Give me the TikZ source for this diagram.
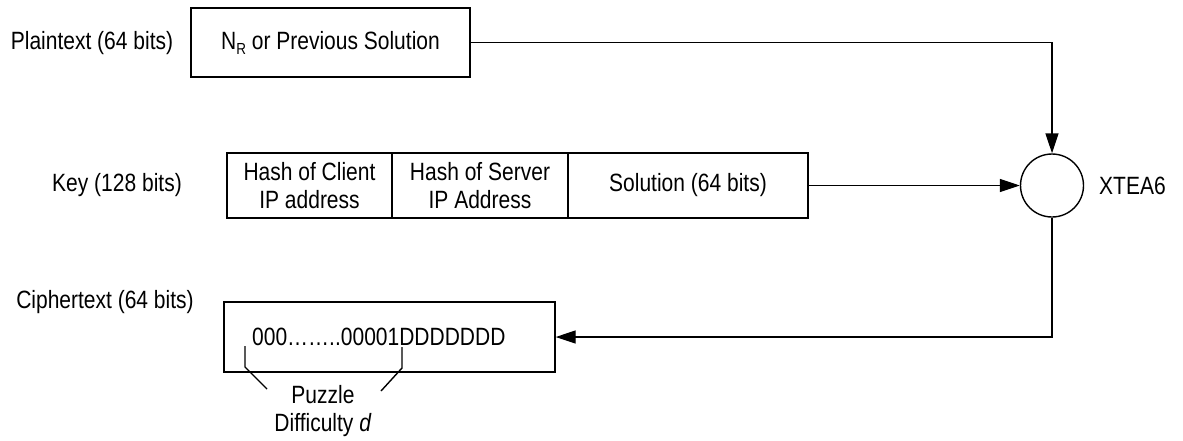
\documentclass[tikz,border=0pt]{standalone}
\usepackage{fontspec}
\setmainfont[FakeStretch=0.84]{Liberation Sans}
\usetikzlibrary{arrows.meta}
\begin{document}
\begin{tikzpicture}[x=1pt,y=-1pt,
  every node/.style={font=\fontsize{25}{28}\selectfont, inner sep=0pt},
  box/.style={draw, line width=1.4pt},
  conn/.style={line width=1.4pt, -{Triangle[length=20pt,width=13pt]}},
  plain/.style={line width=1.4pt}]
\useasboundingbox (0,0) rectangle (1183,440);
% labels
\node (lp) at (92,43) {Plaintext (64 bits)};
\node (lk) at (117,185) {Key (128 bits)};
\node (lc) at (105,302) {Ciphertext (64 bits)};
% plaintext box
\node[box, minimum width=279pt, minimum height=69pt] (pb) at (330.5,42.5) {N{\raisebox{-5pt}{\fontsize{16}{16}\selectfont R}} or Previous Solution};
% key boxes
\node[box, minimum width=165pt, minimum height=65pt, align=center] (k1) at (309.5,185.5) {Hash of Client\\IP address};
\node[box, minimum width=176pt, minimum height=65pt, align=center] (k2) at (480,185.5) {Hash of Server\\IP Address};
\node[box, minimum width=240pt, minimum height=65pt] (k3) at (688,185.5) {Solution (64 bits)};
% circle
\node[draw, circle, line width=1.4pt, minimum size=63pt] (x) at (1052,185.5) {};
\node[anchor=west] (xl) at (1099,185.5) {XTEA6};
% cipher box
\node[box, minimum width=331pt, minimum height=70pt] (cb) at (389.5,337) {};
\node[anchor=west] (ct) at (252,337) {000\dots\dots..00001DDDDDDD};
% connectors
\draw[conn] (pb.east) -| (x.north);
\draw[conn] (k3.east) -- (x.west);
\draw[conn] (x.south) |- (cb.east);
% brace
\coordinate (b1) at (245,346);
\coordinate (b2) at (245,367);
\coordinate (b3) at (267,389);
\coordinate (b4) at (402,347);
\coordinate (b5) at (402,368);
\coordinate (b6) at (381,391);
\draw[plain] (b1) -- (b2) -- (b3);
\draw[plain] (b4) -- (b5) -- (b6);
\node (pz) at (323,395) {Puzzle};
\node (df) at (323,425) {Difficulty \textit{d}};
\end{tikzpicture}
\end{document}
